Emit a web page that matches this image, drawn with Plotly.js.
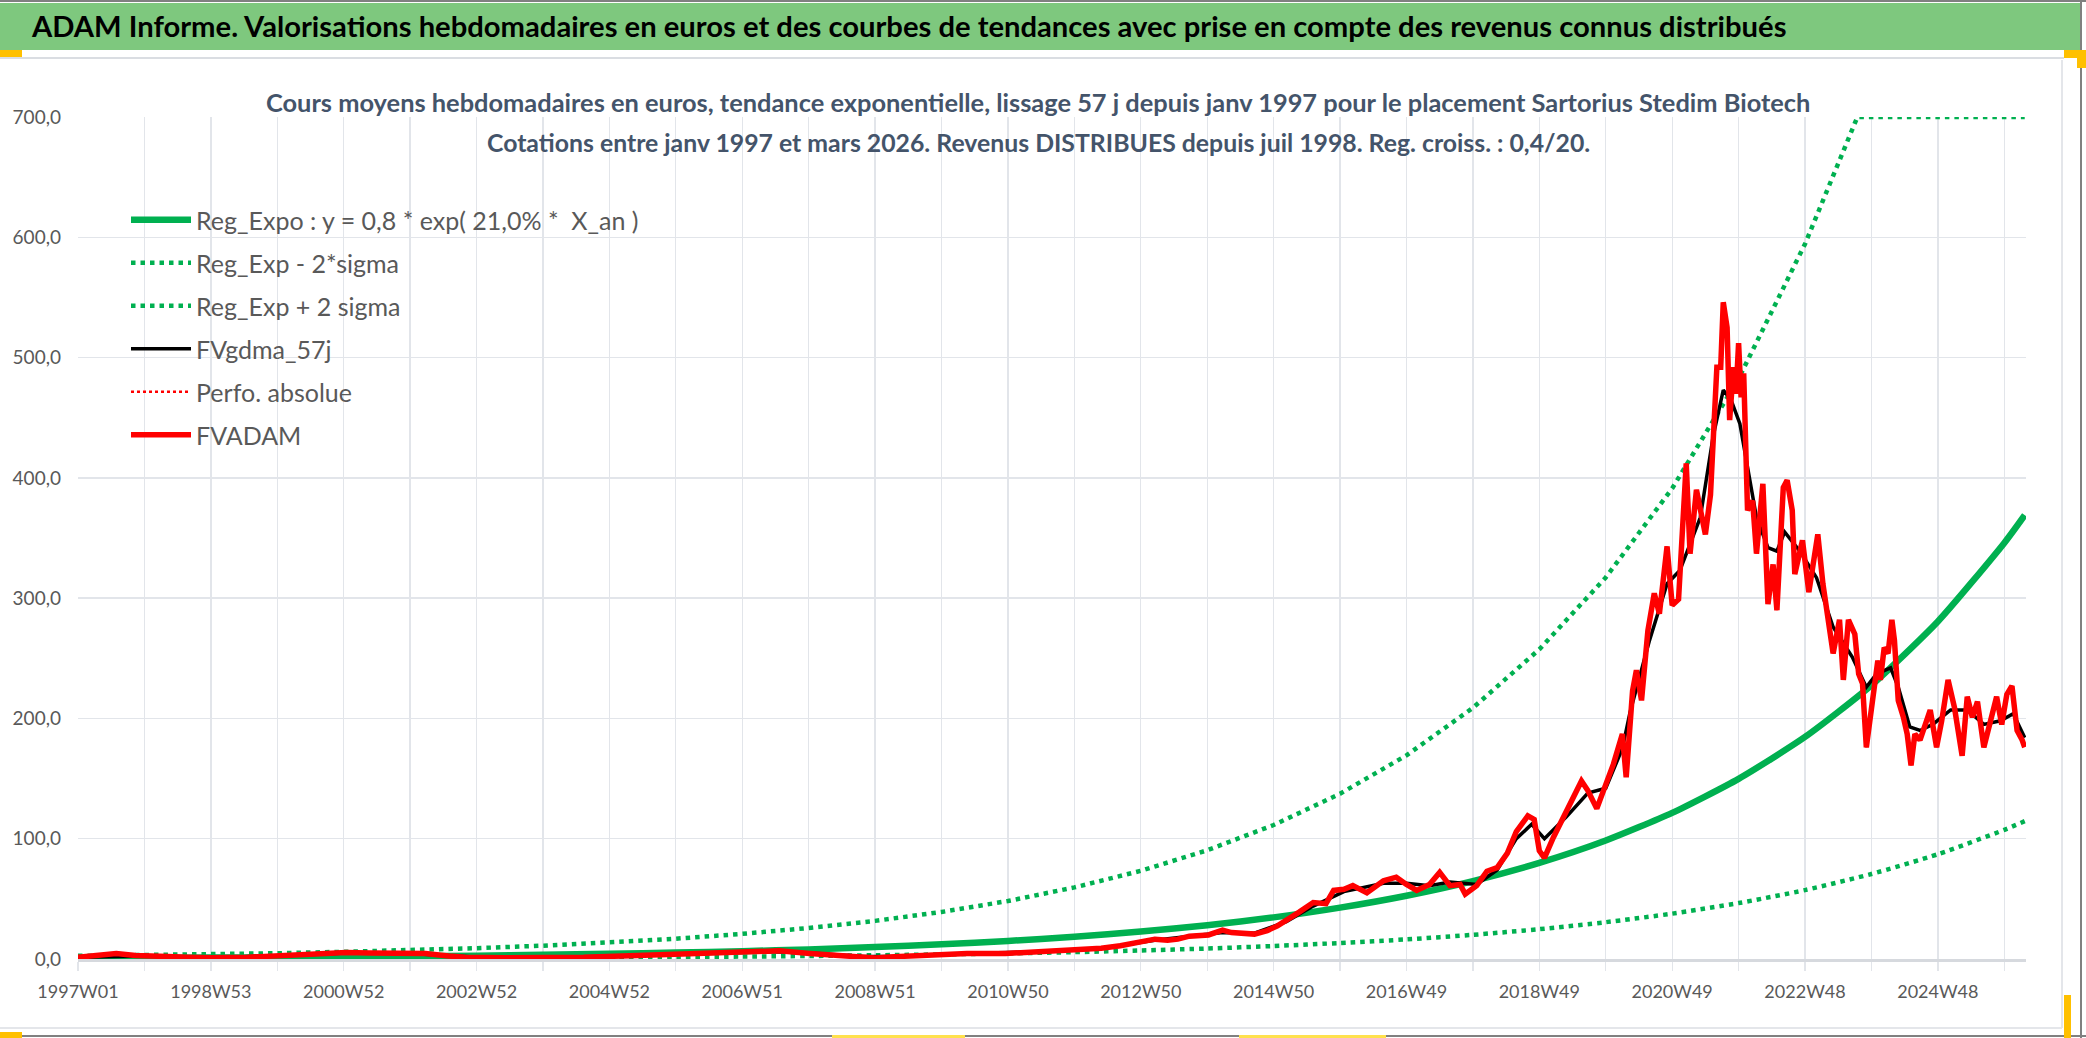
<!DOCTYPE html>
<html>
<head>
<meta charset="utf-8">
<script src="https://cdn.plot.ly/plotly-3.0.1.min.js"></script>
<style>
  html, body { margin: 0; padding: 0; background: #ffffff; }
  #chart { width: 2086px; height: 1038px; }
</style>
</head>
<body>
<div id="chart"></div>
<script>
// x = week number counted from 1997W01 (one grid line every 52 weeks)
var tickLabels = ['1997W01', '1998W53', '2000W52', '2002W52', '2004W52', '2006W51', '2008W51',
  '2010W50', '2012W50', '2014W50', '2016W49', '2018W49', '2020W49', '2022W48', '2024W48'];

// trend curves, read at each grid line
var trendWeeks = [0, 52, 104, 156, 208, 260, 312, 364, 416, 468, 520, 572, 624, 676, 728, 780,
  832, 884, 936, 988, 1040, 1092, 1144, 1196, 1248, 1300, 1352, 1404, 1456, 1508, 1524];
var regExpo = [0.8, 1.0, 1.2, 1.5, 1.9, 2.3, 2.8, 3.5, 4.3, 5.3, 6.5, 8.0, 9.9, 12.2, 15.0, 18.5,
  22.8, 28.1, 34.6, 42.7, 52.6, 64.8, 79.9, 98.5, 121.5, 149.8, 184.6, 227.6, 280.6, 345.9, 369.0];
var regMinus = [0.3, 0.3, 0.4, 0.5, 0.6, 0.7, 0.9, 1.1, 1.3, 1.6, 2.0, 2.5, 3.1, 3.8, 4.7, 5.7,
  7.1, 8.7, 10.8, 13.3, 16.3, 20.1, 24.8, 30.6, 37.7, 46.5, 57.3, 70.7, 87.1, 107.4, 114.6];

// upper band, capped at 700 on the chart
var upperWeeks = [0, 52, 104, 156, 208, 260, 312, 364, 416, 468, 520, 572, 624, 676, 728, 780,
  832, 884, 936, 988, 1040, 1092, 1144, 1196, 1248, 1300, 1352, 1378, 1393, 1404, 1456, 1508, 1524];
var regPlus = [2.6, 3.2, 3.9, 4.8, 6.0, 7.3, 9.0, 11.1, 13.7, 16.9, 20.9, 25.8, 31.7, 39.1, 48.2, 59.5,
  73.3, 90.4, 111.4, 137.4, 169.3, 208.8, 257.4, 317.2, 391.2, 482.4, 594.4, 660, 700, 700, 700, 700, 700];

// FVADAM weekly valuation (sampled)
var adamWeeks = [0, 15, 30, 45, 52, 70, 86, 104, 133, 156, 179, 198, 210, 228, 250, 272, 290, 303,
  334, 365, 396, 426, 457, 476, 501, 531, 549, 573, 597, 615, 624, 639, 666, 696, 726, 756, 786,
  801, 816, 830, 843, 853, 861, 870, 885, 896, 903, 921, 931, 939, 946, 956, 967, 977, 983, 991,
  998, 1009, 1022, 1032, 1040, 1048, 1058, 1066, 1074, 1082, 1086, 1095, 1103, 1111, 1119, 1126,
  1135, 1140, 1144, 1148, 1155, 1165, 1177, 1182, 1189, 1196, 1202, 1209, 1212, 1217, 1220, 1224,
  1229, 1234, 1238, 1244, 1248, 1253, 1259, 1262, 1267, 1274, 1278, 1283, 1286, 1288, 1291, 1293,
  1296, 1298, 1300, 1302, 1304, 1307, 1311, 1314, 1319, 1323, 1327, 1330, 1335, 1338, 1342, 1344,
  1350, 1355, 1362, 1366, 1374, 1379, 1382, 1386, 1391, 1394, 1397, 1400, 1404, 1409, 1411, 1414,
  1417, 1420, 1422, 1425, 1429, 1432, 1435, 1438, 1442, 1446, 1450, 1455, 1459, 1464, 1469, 1475,
  1479, 1483, 1487, 1492, 1497, 1502, 1506, 1510, 1514, 1518, 1522, 1524];
var adamValues = [1.5, 2.5, 4.5, 3.0, 2.5, 2.0, 1.5, 1.0, 1.5, 2.5, 3.5, 5.0, 5.5, 5.0, 4.5, 4.5, 2.5, 1.5,
  1.0, 1.0, 1.5, 2.5, 3.5, 4.2, 5.4, 6.8, 6.8, 4.6, 2.7, 1.9, 0.8, 1.9, 3.5, 4.6, 4.6, 6.3, 7.4,
  9.0, 11.0, 13.7, 16.5, 15.6, 16.5, 19.0, 20.0, 24.0, 22.0, 20.7, 23.6, 27.5, 32, 39, 47, 46, 57, 58,
  61, 55, 65, 68, 62, 57, 62, 72, 61, 62, 54, 61, 73, 76, 88, 106,
  119, 116, 90, 84, 101, 123, 148, 140, 125, 145, 162, 187, 151, 223, 240, 215,
  273, 304, 287, 343, 294, 299, 412, 337, 390, 353, 386, 492, 492, 546, 525, 448,
  492, 470, 512, 467, 487, 373, 381, 337, 395, 295, 328, 290, 392, 398, 373, 320,
  348, 305, 353, 312, 254, 282, 232, 282, 270, 237, 229, 176, 212, 248, 232, 259,
  254, 282, 265, 215, 201, 187, 161, 187, 182, 195, 207, 176, 198, 232, 209, 169,
  218, 201, 214, 176, 198, 218, 195, 220, 227, 190, 182, 176];

// FVgdma_57j smoothed valuation (sampled)
var gdmaWeeks = [0, 52, 104, 156, 210, 260, 310, 365, 426, 476, 531, 573, 615, 640, 696, 756, 801,
  843, 870, 896, 921, 946, 967, 991, 1022, 1040, 1058, 1074, 1095, 1111, 1126, 1138, 1148, 1165,
  1182, 1196, 1209, 1215, 1230, 1244, 1254, 1270, 1280, 1288, 1294, 1301, 1307, 1314, 1323, 1330,
  1336, 1348, 1361, 1374, 1389, 1400, 1408, 1419, 1425, 1434, 1442, 1452, 1466, 1479, 1492, 1505,
  1515, 1524];
var gdmaValues = [1.5, 2.5, 1.2, 2.5, 5.0, 4.5, 1.6, 1.0, 2.5, 4.2, 6.5, 5.0, 2.0, 2.0, 4.5, 6.2, 9.0,
  15.5, 18.5, 22.0, 21.5, 31, 44, 56, 63, 63, 61, 64, 62, 74, 100, 112, 100, 118,
  138, 142, 175, 205, 264, 312, 323, 367, 434, 473, 465, 445, 409, 367, 342, 339,
  355, 339, 317, 276, 251, 226, 237, 242, 226, 193, 190, 195, 207, 207, 195, 198,
  204, 184];

// page pixel -> paper coordinates (plot area 78..2026 x 117..959)
function px(x) { return (x - 78) / 1948; }
function py(y) { return (959 - y) / 842; }

var tickVals = [];
var tickText = [];
for (var k = 0; k * 52 <= 1508; k++) {
  tickVals.push(k * 52);
  tickText.push(k % 2 === 0 ? tickLabels[k / 2] : '');
}

var font = 'Lato, "Liberation Sans", sans-serif';

var data = [
  {
    type: 'scatter', mode: 'lines', name: 'Reg_Expo : y = 0,8 * exp( 21,0% *  X_an )',
    x: trendWeeks, y: regExpo, legendgroup: 'a',
    line: { color: '#00b050', width: 6.5, shape: 'spline', smoothing: 0.6 }
  },
  {
    type: 'scatter', mode: 'lines', name: 'Reg_Exp - 2*sigma',
    x: trendWeeks, y: regMinus, legendgroup: 'b',
    line: { color: '#00b050', width: 4.5, dash: '4.5px,5px', shape: 'spline', smoothing: 0.6 }
  },
  {
    type: 'scatter', mode: 'lines', name: 'Reg_Exp + 2 sigma',
    x: upperWeeks, y: regPlus, legendgroup: 'c',
    line: { color: '#00b050', width: 4.5, dash: '4.5px,5px' }
  },
  {
    type: 'scatter', mode: 'lines', name: 'FVgdma_57j',
    x: gdmaWeeks, y: gdmaValues, legendgroup: 'd',
    line: { color: '#000000', width: 3.5 }
  },
  {
    // same path as FVADAM, hidden under it
    type: 'scatter', mode: 'lines', name: 'Perfo. absolue',
    x: adamWeeks, y: adamValues, legendgroup: 'e',
    line: { color: '#ff0000', width: 2.5, dash: '3px,3px' }
  },
  {
    type: 'scatter', mode: 'lines', name: 'FVADAM',
    x: adamWeeks, y: adamValues, legendgroup: 'f',
    line: { color: '#ff0000', width: 5.5 }
  }
];

var layout = {
  width: 2086,
  height: 1038,
  margin: { l: 78, r: 60, t: 117, b: 79 },
  paper_bgcolor: '#ffffff',
  plot_bgcolor: '#ffffff',
  separators: ', ',
  showlegend: true,
  hovermode: false,
  font: { family: font, color: '#595959' },
  legend: {
    x: px(126), y: py(197), xanchor: 'left', yanchor: 'top',
    bgcolor: 'rgba(0,0,0,0)',
    font: { family: font, size: 25, color: '#595959' },
    tracegroupgap: 7.5,
    itemwidth: 60
  },
  xaxis: {
    range: [0, 1525],
    tickmode: 'array',
    tickvals: tickVals,
    ticktext: tickText,
    showgrid: true,
    gridcolor: '#e2e5ea',
    gridwidth: 1.3,
    ticks: 'outside',
    ticklen: 9,
    tickcolor: '#e2e5ea',
    tickwidth: 1.3,
    showline: true,
    linecolor: '#d6d9de',
    linewidth: 2.5,
    zeroline: false,
    ticklabelstandoff: 6,
    tickfont: { family: font, size: 18, color: '#595959' }
  },
  yaxis: {
    range: [0, 700],
    dtick: 100,
    tickformat: '.1f',
    showgrid: true,
    gridcolor: '#e2e5ea',
    gridwidth: 1.3,
    zeroline: false,
    showline: false,
    ticks: '',
    ticklabelstandoff: 16,
    tickfont: { family: font, size: 19, color: '#595959' }
  },
  shapes: [
    // white block behind the chart title
    { type: 'rect', xref: 'paper', yref: 'paper', layer: 'between',
      x0: px(263), x1: px(1818), y0: py(163), y1: py(112),
      fillcolor: '#ffffff', line: { width: 0 } },
    // green banner
    { type: 'rect', xref: 'paper', yref: 'paper', layer: 'above',
      x0: px(0), x1: px(2080), y0: py(50), y1: py(3),
      fillcolor: '#7ec87e', line: { width: 0 } },
    // frame lines
    { type: 'line', xref: 'paper', yref: 'paper', x0: px(0), x1: px(2086), y0: py(1), y1: py(1),
      line: { color: '#808080', width: 2 } },
    { type: 'line', xref: 'paper', yref: 'paper', x0: px(0), x1: px(2064), y0: py(58), y1: py(58),
      line: { color: '#dadde2', width: 2 } },
    { type: 'line', xref: 'paper', yref: 'paper', x0: px(0), x1: px(2062), y0: py(1028), y1: py(1028),
      line: { color: '#e4e6ea', width: 2 } },
    { type: 'line', xref: 'paper', yref: 'paper', x0: px(0), x1: px(2086), y0: py(1036), y1: py(1036),
      line: { color: '#808080', width: 2 } },
    { type: 'line', xref: 'paper', yref: 'paper', x0: px(2081), x1: px(2081), y0: py(0), y1: py(1038),
      line: { color: '#808080', width: 2 } },
    { type: 'line', xref: 'paper', yref: 'paper', x0: px(2062), x1: px(2062), y0: py(60), y1: py(1028),
      line: { color: '#e4e6ea', width: 2 } },
    // selection handles
    { type: 'rect', xref: 'paper', yref: 'paper', x0: px(0), x1: px(22), y0: py(57), y1: py(50),
      fillcolor: '#ffc000', line: { width: 0 } },
    { type: 'rect', xref: 'paper', yref: 'paper', x0: px(2064), x1: px(2086), y0: py(58), y1: py(50),
      fillcolor: '#ffc000', line: { width: 0 } },
    { type: 'rect', xref: 'paper', yref: 'paper', x0: px(2077), x1: px(2086), y0: py(68), y1: py(50),
      fillcolor: '#ffc000', line: { width: 0 } },
    { type: 'rect', xref: 'paper', yref: 'paper', x0: px(0), x1: px(22), y0: py(1038), y1: py(1032),
      fillcolor: '#ffc000', line: { width: 0 } },
    { type: 'rect', xref: 'paper', yref: 'paper', x0: px(2064), x1: px(2071), y0: py(1038), y1: py(995),
      fillcolor: '#ffc000', line: { width: 0 } },
    { type: 'rect', xref: 'paper', yref: 'paper', x0: px(1239), x1: px(1386), y0: py(1038), y1: py(1035),
      fillcolor: '#ffe14d', line: { width: 0 } },
    { type: 'rect', xref: 'paper', yref: 'paper', x0: px(832), x1: px(965), y0: py(1038), y1: py(1035),
      fillcolor: '#ffe14d', line: { width: 0 } }
  ],
  annotations: [
    {
      xref: 'paper', yref: 'paper', x: px(29), y: py(26), xanchor: 'left', yanchor: 'middle',
      showarrow: false,
      text: '<b>ADAM Informe. Valorisations hebdomadaires en euros et des courbes de tendances avec prise en compte des revenus connus distribués</b>',
      font: { family: font, size: 29.2, color: '#000000' }
    },
    {
      xref: 'paper', yref: 'paper', x: px(1038), y: py(102), xanchor: 'center', yanchor: 'middle',
      showarrow: false,
      text: '<b>Cours moyens hebdomadaires en euros, tendance exponentielle, lissage 57 j depuis janv 1997 pour le placement Sartorius Stedim Biotech</b>',
      font: { family: font, size: 25.4, color: '#44546a' }
    },
    {
      xref: 'paper', yref: 'paper', x: px(1038), y: py(142), xanchor: 'center', yanchor: 'middle',
      showarrow: false,
      text: '<b>Cotations entre janv 1997 et mars 2026. Revenus DISTRIBUES depuis juil 1998. Reg. croiss. : 0,4/20.</b>',
      font: { family: font, size: 24.8, color: '#44546a' }
    }
  ]
};

Plotly.newPlot('chart', data, layout, { displayModeBar: false, staticPlot: true });
</script>
</body>
</html>
